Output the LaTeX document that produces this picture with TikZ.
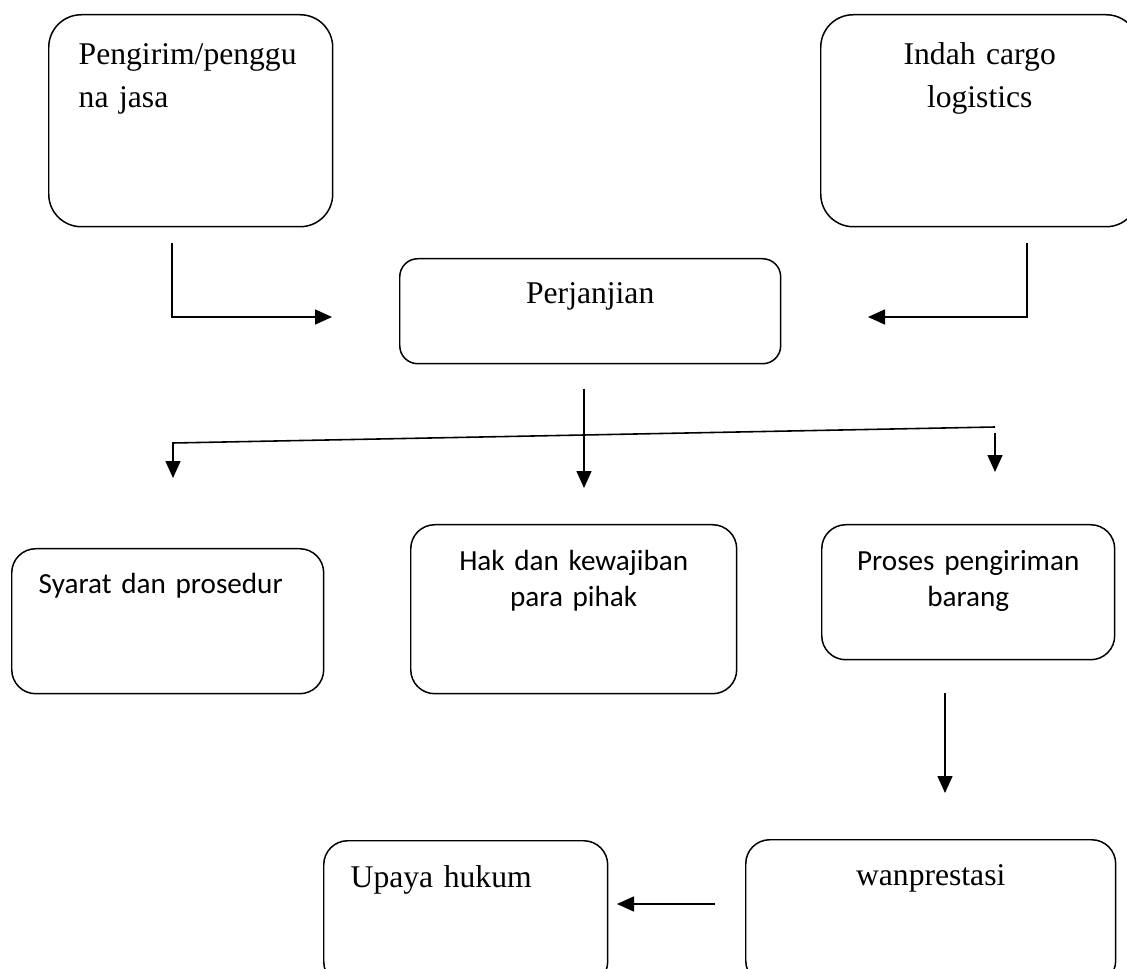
\documentclass[tikz,border=0pt]{standalone}
\usepackage{fontspec}
\setmainfont{Liberation Serif}
\setsansfont{Carlito}
\usepackage{tikz}
\usetikzlibrary{arrows.meta}

\tikzset{
  box/.style={draw, line width=0.85pt, inner ysep=0pt, anchor=north west},
  serif/.style={font=\fontsize{18}{24.4}\selectfont},
  sans/.style={font=\sffamily\fontsize{16.6}{20.5}\selectfont},
  link/.style={line width=0.9pt, -{Triangle[length=0.34cm,width=0.3cm]}}
}

\begin{document}
\begin{tikzpicture}[x=0.02cm, y=-0.02cm]
                \useasboundingbox (0,0) rectangle (1127,969);

                % Parties
                \node[box, serif, rounded corners=0.65cm, inner xsep=0.6cm, text width=4.48cm, align=left,
                      text height=1cm, text depth=3.24cm] (pengirim) at (48,14) {Pengirim/penggu\\na jasa};
                \node[box, serif, rounded corners=0.65cm, inner xsep=0.6cm, text width=5.16cm, align=center,
                      text height=1cm, text depth=3.24cm] (indah) at (820,14) {Indah cargo\\logistics};

                % Agreement
                \node[box, serif, rounded corners=0.36cm, inner xsep=0.4cm, text width=6.82cm, align=center,
                      text height=0.9cm, text depth=1.2cm] (perjanjian) at (399,258) {Perjanjian};

                % Contents of the agreement
                \node[box, sans, rounded corners=0.48cm, inner xsep=0.54cm, text width=5.16cm, align=left,
                      text height=0.9cm, text depth=2cm] (syarat) at (11,548) {Syarat dan prosedur};
                \node[box, sans, rounded corners=0.48cm, inner xsep=0.4cm, text width=5.72cm, align=center,
                      text height=0.92cm, text depth=2.46cm] (hak) at (410,524) {Hak dan kewajiban\\para pihak};
                \node[box, sans, rounded corners=0.48cm, inner xsep=0.3cm, text width=5.26cm, align=center,
                      text height=0.92cm, text depth=1.78cm] (proses) at (821,524) {Proses pengiriman\\barang};

                % Breach and remedy
                \node[box, serif, rounded corners=0.48cm, inner xsep=0.54cm, text width=4.6cm, align=left,
                      text height=0.94cm, text depth=1.96cm] (upaya) at (323,840) {Upaya hukum};
                \node[box, serif, rounded corners=0.48cm, inner xsep=0.4cm, text width=6.6cm, align=center,
                      text height=0.92cm, text depth=1.98cm] (wanprestasi) at (745,839) {wanprestasi};

                % Arrow ends
                \coordinate (p1) at (172,243);
                \coordinate (p2) at (172,317);
                \coordinate (p3) at (332,317);
                \coordinate (i1) at (1027,243);
                \coordinate (i2) at (1027,317);
                \coordinate (i3) at (868,317);
                \coordinate (m1) at (584,389);
                \coordinate (m2) at (584,488);
                \coordinate (b1) at (995,427);
                \coordinate (b2) at (173,443);
                \coordinate (b3) at (173,478);
                \coordinate (r1) at (995,433);
                \coordinate (r2) at (995,472);
                \coordinate (s1) at (945,693);
                \coordinate (s2) at (945,793);
                \coordinate (w1) at (715,904);
                \coordinate (w2) at (617,904);

                % Arrows
                \draw[link] (p1) -- (p2) -- (p3);
                \draw[link] (i1) -- (i2) -- (i3);
                \draw[link] (m1) -- (m2);
                \draw[link] (b1) -- (b2) -- (b3);
                \draw[link] (r1) -- (r2);
                \draw[link] (s1) -- (s2);
                \draw[link] (w1) -- (w2);
            \end{tikzpicture}
\end{document}
